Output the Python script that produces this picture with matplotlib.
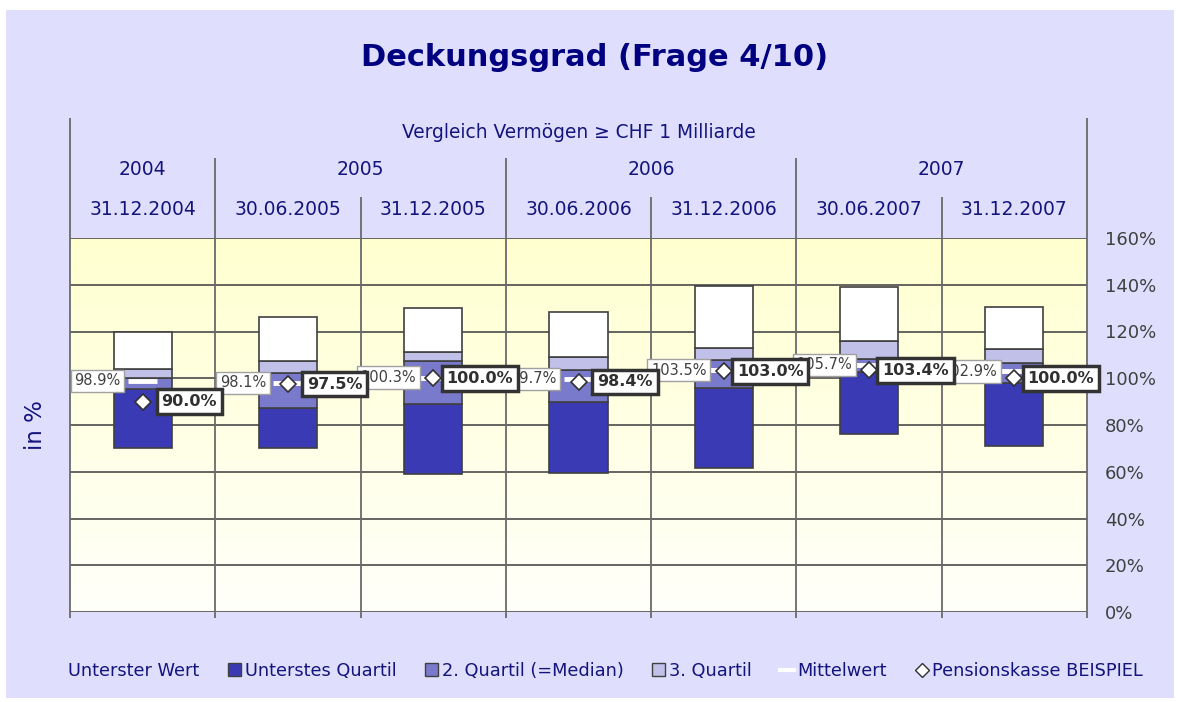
import numpy as np
import matplotlib
matplotlib.use('Agg')
import matplotlib.pyplot as plt
from matplotlib.patches import Patch, Rectangle
from matplotlib.lines import Line2D
from matplotlib.colors import LinearSegmentedColormap

# data
dates = ['31.12.2004', '30.06.2005', '31.12.2005', '30.06.2006',
         '31.12.2006', '30.06.2007', '31.12.2007']
years = ['2004', '2005', '2006', '2007']
year_start = [0, 1, 3, 5]
year_end = [1, 3, 5, 7]

lowest = [70.2, 70.3, 59.2, 59.6, 61.7, 76.0, 71.1]
q1 = [95.4, 87.4, 89.0, 89.8, 95.7, 102.8, 98.1]
median = [100.0, 102.4, 107.5, 103.5, 107.8, 108.1, 106.7]
q3 = [103.8, 107.4, 111.1, 109.2, 113.1, 116.1, 112.5]
highest = [120.0, 126.3, 130.2, 128.2, 139.5, 139.2, 130.6]
mean = [98.9, 98.1, 100.3, 99.7, 103.5, 105.7, 102.9]
pension = [90.0, 97.5, 100.0, 98.4, 103.0, 103.4, 100.0]

navy = '#14147d'
grey_txt = '#404040'
line_c = '#6a6a6a'
c_dark = '#3a3ab4'
c_med = '#7a7acc'
c_light = '#c0c0e8'
bg = '#dfdffd'

fig = plt.figure(figsize=(11.8, 7.02), dpi=100, facecolor='white')
fig.patches.append(Rectangle((6/1180, 4/702), 1168/1180, 688/702,
                             transform=fig.transFigure, facecolor=bg,
                             edgecolor='none', zorder=-10))

ax = fig.add_axes([70/1180, 90/702, 1017/1180, 374/702])
ax.set_xlim(0, 7)
ax.set_ylim(0, 160)
ax.patch.set_alpha(0)

# gradient background of the plot area
cmap = LinearSegmentedColormap.from_list('bg', ['#fffffa', '#ffffd0'])
ax.imshow(np.linspace(0, 1, 256).reshape(-1, 1), cmap=cmap, aspect='auto',
          extent=[0, 7, 0, 160], origin='lower', zorder=0)

for s in ax.spines.values():
    s.set_visible(False)

# grid
ax.hlines(np.arange(0, 161, 20), 0, 7, color='#4a4a4a', lw=1.2, zorder=1)

# vertical lines (plot + header)
for b in range(8):
    if b in (0, 7):
        top = 211.3
    elif b in year_start:
        top = 194.2
    else:
        top = 177.5
    ax.vlines(b, -2.6, top, color=line_c, lw=1.3, zorder=1.5, clip_on=False)

x = np.arange(len(dates)) + 0.5
w = 0.4
lo = np.array(lowest)
seg1 = np.array(q1) - lo
seg2 = np.array(median) - np.array(q1)
seg3 = np.array(q3) - np.array(median)
seg4 = np.array(highest) - np.array(q3)
ec = '#404040'
ax.bar(x, seg1, w, bottom=lo, color=c_dark, edgecolor=ec, lw=1.2, zorder=3)
ax.bar(x, seg2, w, bottom=q1, color=c_med, edgecolor=ec, lw=1.2, zorder=3)
ax.bar(x, seg3, w, bottom=median, color=c_light, edgecolor=ec, lw=1.2, zorder=3)
ax.bar(x, seg4, w, bottom=q3, color='white', edgecolor=ec, lw=1.2, zorder=3)

ax.hlines(mean, x - 0.1, x + 0.1, color='white', lw=3.5, zorder=4)
ax.plot(x, pension, 'D', ms=8, mfc='white', mec='#303030', mew=1.2, zorder=5)

# value labels (pension labels sit on top of the mean labels, as in the original)
for xi, m in zip(x, mean):
    ax.text(xi - 0.31, m, f'{m:.1f}%', ha='center', va='center', fontsize=10.5,
            color=grey_txt, zorder=6,
            bbox=dict(boxstyle='square,pad=0.25', fc='white', ec='#a0a0a0', lw=1))
for xi, p in zip(x, pension):
    ax.text(xi + 0.32, p, f'{p:.1f}%', ha='center', va='center', fontsize=11.5,
            fontweight='bold', color='#303030', zorder=7,
            bbox=dict(boxstyle='square,pad=0.3', fc='white', ec='#333333', lw=2.5))

# header texts
ax.text(3.5, 205.3, 'Vergleich Vermögen ≥ CHF 1 Milliarde', ha='center',
        va='center', fontsize=13.4, color=navy, clip_on=False)
for yr, a, b in zip(years, year_start, year_end):
    ax.text((a + b) / 2, 189.1, yr, ha='center', va='center', fontsize=13.5,
            color=navy, clip_on=False)
for xi, d in zip(x, dates):
    ax.text(xi, 172, d, ha='center', va='center', fontsize=13.5,
            color=navy, clip_on=False)

# axes ticks
ax.set_xticks([])
ax.yaxis.tick_right()
ax.set_yticks(np.arange(0, 161, 20))
ax.set_yticklabels([f'{v}%' for v in range(0, 161, 20)], fontsize=13,
                   color=grey_txt)
ax.tick_params(axis='y', length=0, pad=13)

fig.text(595/1180, 1 - 57/702, 'Deckungsgrad (Frage 4/10)', ha='center',
         va='center', fontsize=22, fontweight='bold', color='#000080')
fig.text(35/1180, 1 - 425/702, 'in %', ha='center', va='center',
         rotation=90, fontsize=16.5, color=navy)

handles = [Patch(fc='none', ec='none'),
           Patch(fc=c_dark, ec=ec),
           Patch(fc=c_med, ec=ec),
           Patch(fc=c_light, ec=ec),
           Line2D([], [], color='white', lw=3),
           Line2D([], [], ls='none', marker='D', ms=7, mfc='white',
                  mec='#303030')]
labels = ['Unterster Wert', 'Unterstes Quartil', '2. Quartil (=Median)',
          '3. Quartil', 'Mittelwert', 'Pensionskasse BEISPIEL']
leg = fig.legend(handles, labels, loc='center', ncol=6,
                 bbox_to_anchor=(597/1180, 1 - 671/702), frameon=False,
                 fontsize=12.8, handlelength=0.75, handleheight=0.75,
                 handletextpad=0.2, columnspacing=1.6)
for t in leg.get_texts():
    t.set_color(navy)

fig.savefig('out.png', dpi=100, facecolor='white')
